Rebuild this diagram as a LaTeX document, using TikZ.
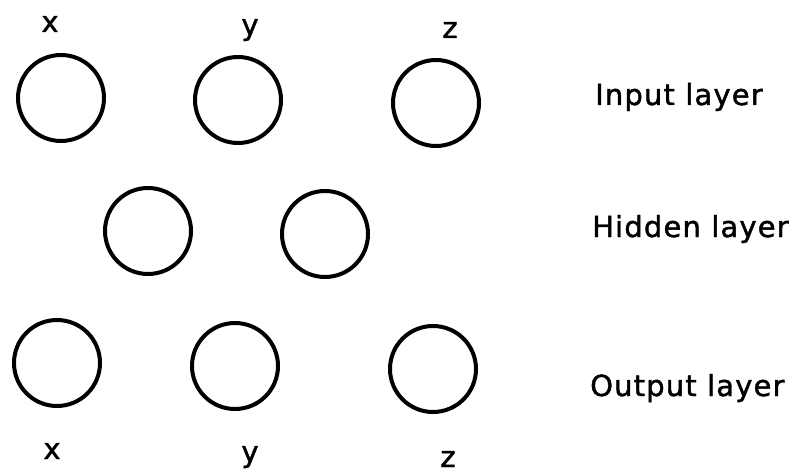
\documentclass[tikz,border=0pt]{standalone}
\usepackage{fontspec}
\setmainfont{DejaVu Sans}[LetterSpace=4, FakeBold=1.5]

\begin{document}
\begin{tikzpicture}[x=1pt, y=-1pt,
  neuron/.style={draw, circle, line width=4pt, minimum size=86pt, inner sep=0pt},
  varlabel/.style={anchor=base, inner sep=0pt, font=\fontsize{29}{33}\selectfont},
  layerlabel/.style={anchor=base west, inner sep=0pt, font=\fontsize{29}{33}\selectfont}]

  \useasboundingbox (0,0) rectangle (798,473);

  % --- 1. Input layer ---
  \node[neuron] (in1) at (61,98) {};
  \node[neuron] (in2) at (238,100) {};
  \node[neuron] (in3) at (436,103) {};
  \node[varlabel] (inx) at (50,32) {x};
  \node[varlabel] (iny) at (250,35) {y};
  \node[varlabel] (inz) at (450,38) {z};
  \node[layerlabel] (inlab) at (595,105) {Input layer};

  % --- 2. Hidden layer ---
  \node[neuron] (hid1) at (148,231) {};
  \node[neuron] (hid2) at (325,234) {};
  \node[layerlabel] (hidlab) at (592,237) {Hidden layer};

  % --- 3. Output layer ---
  \node[neuron] (out1) at (57,363) {};
  \node[neuron] (out2) at (235,366) {};
  \node[neuron] (out3) at (433,369) {};
  \node[varlabel] (outx) at (52,459) {x};
  \node[varlabel] (outy) at (250,462) {y};
  \node[varlabel] (outz) at (448,467) {z};
  \node[layerlabel] (outlab) at (590,396) {Output layer};

\end{tikzpicture}
\end{document}
